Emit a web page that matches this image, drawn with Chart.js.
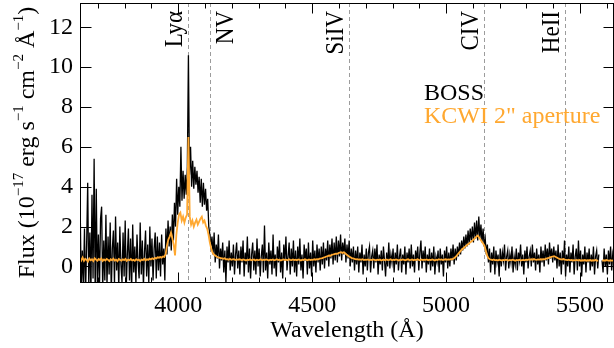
<!DOCTYPE html>
<html><head><meta charset="utf-8">
<script src="https://cdn.jsdelivr.net/npm/chart.js@4.4.1/dist/chart.umd.min.js"></script>
<style>html,body{margin:0;padding:0;background:#fff;}canvas{display:block;}</style>
</head><body>
<canvas id="c" width="614" height="348"></canvas>
<script>
// BOSS spectrum: flux sampled every 4 Å starting at 3630 Å
const BOSS_START = 3630, BOSS_STEP = 4;
const bossFlux = [
  1.2, 2.9, -1.2, 0.8, -0.9, 1.9, -1.4, 1.1, 4.2, -1.0, 1.7, -1.3, 3.6, -0.6, 5.4, -1.5, 3.9, -0.9, 1.6, -1.1, 2.4, 3.0, -1.2, 1.3, -0.7,
  2.6, -1.0, 1.5, -0.4, 2.2, -1.3, 0.9, 1.8, -0.9, 2.5, -0.2, 1.2, -1.1, 2.0, 0.1, -0.8, 1.7, -0.5, 2.3, -1.0, 0.6, 1.9, -0.7, 1.4, -1.2,
  2.1, -0.3, 1.0, -0.9, 1.6, 0.2, -0.6, 2.2, -0.4, 1.3, -1.0, 0.7, 1.8, -0.5, 1.1, -0.8, 2.0, 0.0, 1.4, -0.7, 0.9, 1.7, -0.6, 1.5, -0.2,
  1.2, -0.5, 1.6, 0.1, 0.9, -0.7, 1.9, 0.6, 2.3, 1.0, 2.0, 0.8, 2.6, 1.3, 3.2, 2.0, 4.4, 2.6, 4.0, 3.0, 6.0, 3.3, 4.8, 3.4, 4.6,
  3.6, 5.0, 10.6, 4.6, 6.0, 4.0, 5.3, 3.9, 5.0, 4.1, 4.8, 3.7, 4.5, 3.2, 4.4, 3.0, 4.2, 3.1, 3.9, 2.8, 3.4, 2.0, 1.6, 1.0, 1.5,
  0.6, 1.7, 0.2, 1.1, 0.4, 1.6, -0.1, 0.9, 0.3, 1.2, -0.3, 0.8, -0.8, 1.0, 0.2, 1.3, -0.2, 0.7, 0.0, 1.1, -0.4, 0.6, 1.2, -0.1, 0.8,
  -0.4, 1.0, 0.2, 1.3, -0.5, 0.7, 0.1, 1.5, -0.3, 0.9, -0.6, 0.6, 1.2, -0.2, 0.8, -0.4, 1.4, 0.0, 0.9, -0.5, 0.5, 1.1, -0.3, 2.05, -0.2,
  0.7, -0.6, 1.2, 0.1, 0.8, -0.4, 1.6, -0.1, 0.6, -0.5, 1.0, 0.2, 1.3, -0.3, 0.7, -0.6, 1.1, 0.3, 1.5, -0.2, 0.5, 1.2, -0.4, 0.9, 0.0,
  1.3, -0.3, 0.8, -0.5, 1.0, 0.1, 1.4, -0.2, 0.6, -0.6, 1.1, 0.3, 0.9, -0.4, 1.2, -0.1, 0.7, -0.5, 1.3, 0.0, 0.8, -0.3, 1.1, 0.2, 0.9,
  -0.2, 1.0, 0.1, 1.2, -0.1, 0.9, 0.3, 1.3, 0.0, 1.1, 0.4, 1.4, 0.1, 1.2, 0.3, 1.5, 0.2, 1.3, 0.5, 1.6, 0.3, 1.2, 0.6, 1.4, 0.2,
  1.1, 0.4, 1.3, 0.0, 0.9, 0.2, 1.0, -0.2, 0.8, 0.1, 1.0, -0.3, 0.7, 0.2, 1.1, -0.4, 0.6, 0.0, 0.9, -0.2, 0.7, 1.0, -0.3, 0.5, 0.8,
  -0.1, 0.9, 0.2, 1.1, -0.4, 0.6, 0.1, 0.8, -0.2, 1.0, 0.3, -0.5, 0.7, 0.0, 1.2, -0.1, 0.6, 0.2, 0.9, -0.3, 0.7, 0.1, 1.1, -0.2, 0.5,
  0.9, -0.3, 0.6, 0.1, 1.0, -0.4, 0.7, 0.2, 0.9, -0.1, 1.1, 0.0, 0.6, -0.3, 0.8, 0.3, 1.0, -0.2, 0.7, 1.3, -0.1, 0.8, 0.2, 1.0, -0.3,
  0.6, 0.1, 0.9, -0.2, 0.7, 0.0, 1.0, -0.4, 0.5, 0.2, 0.8, -0.3, 0.9, 0.1, 0.6, -0.5, 0.8, 0.2, 1.0, -0.1, 0.7, 0.0, 0.9, 0.3, 1.1,
  0.1, 0.9, 0.3, 1.0, 0.5, 1.2, 0.6, 1.3, 0.8, 1.5, 0.9, 1.6, 1.0, 1.8, 1.1, 1.9, 1.3, 2.0, 1.2, 2.2, 1.4, 2.3, 1.3, 2.5, 1.4,
  2.1, 1.2, 1.9, 1.0, 1.4, 0.6, 1.1, 0.2, 0.9, -0.3, 0.7, 0.1, 1.0, -0.4, 0.8, 0.2, 0.6, -0.5, 0.9, 0.0, 0.7, 0.3, 1.1, -0.2, 0.5,
  0.8, -0.1, 0.6, 0.2, 1.0, -0.3, 0.5, 0.1, 0.9, -0.2, 0.7, 0.3, 1.1, 0.0, 0.6, -0.4, 0.8, 0.2, 1.0, -0.1, 0.5, 0.8, 0.0, 1.1, 0.2,
  0.7, -0.2, 0.9, 0.1, 0.6, -0.3, 1.0, 0.2, 0.8, 0.0, 1.1, 0.3, 0.9, 0.1, 1.2, 0.4, 0.9, 0.2, 1.0, 0.3, 0.8, -0.1, 1.1, 0.0, 0.7,
  -0.4, 0.8, 0.1, 1.3, -0.5, 0.6, 0.0, 1.0, -0.3, 0.7, 0.2, 1.1, -0.4, 0.5, 0.9, -0.2, 1.3, 0.0, 0.8, -0.5, 0.6, 0.1, 1.0, -0.3, 0.7,
  0.2, 0.9, -0.2, 0.6, 0.0, 1.0, -0.4, 0.5, 0.8, -0.1, 0.6, null, null, 0.3, -0.3, 0.9, 0.0, 0.6, -0.4, 0.8, 0.1, 1.0, -0.2, 0.6, 0.2
];

// KCWI 2" aperture spectrum: flux sampled every 5 Å starting at 3633 Å
const KCWI_START = 3633, KCWI_STEP = 5;
const kcwiFlux = [
  0.42, 0.30, 0.45, 0.28, 0.38, 0.33, 0.25, 0.40, 0.31, 0.36, 0.27, 0.41, 0.34, 0.29, 0.37, 0.32, 0.40, 0.28, 0.35, 0.30,
  0.38, 0.33, 0.27, 0.36, 0.31, 0.39, 0.30, 0.34, 0.26, 0.37, 0.33, 0.29, 0.36, 0.32, 0.38, 0.28, 0.34, 0.31, 0.37, 0.30,
  0.33, 0.28, 0.36, 0.31, 0.34, 0.27, 0.35, 0.32, 0.38, 0.30, 0.36, 0.33, 0.39, 0.35, 0.41, 0.37, 0.43, 0.40, 0.46, 0.44,
  0.47, 0.44, 0.50, 0.48, 0.62, 1.05, 1.35, 1.5, 1.7, 1.4, 1.1, 0.55, 1.6, 2.2, 2.6, 2.7, 2.3, 2.5, 2.2, 2.45,
  2.6, 6.5, 2.5, 2.1, 2.3, 2.0, 2.2, 2.35, 2.1, 2.25, 2.4, 2.5, 2.2, 2.3, 2.05, 1.9, 1.6, 1.2, 0.9, 0.7,
  0.6, 0.55, 0.5, 0.46, 0.44, 0.42, 0.40, 0.38, 0.41, 0.36, 0.37, 0.34, 0.38, 0.33, 0.35, 0.36, 0.32, 0.35, 0.33, 0.36,
  0.34, 0.31, 0.35, 0.33, 0.30, 0.34, 0.32, 0.36, 0.31, 0.33, 0.35, 0.30, 0.34, 0.32, 0.33, 0.36, 0.31, 0.34, 0.32, 0.35,
  0.33, 0.30, 0.34, 0.32, 0.35, 0.31, 0.33, 0.36, 0.32, 0.34, 0.30, 0.33, 0.35, 0.32, 0.34, 0.31, 0.36, 0.33, 0.32, 0.35,
  0.32, 0.34, 0.31, 0.35, 0.33, 0.30, 0.34, 0.32, 0.36, 0.33, 0.31, 0.35, 0.32, 0.34, 0.33, 0.36, 0.34, 0.37, 0.36, 0.39,
  0.40, 0.42, 0.45, 0.47, 0.50, 0.52, 0.55, 0.54, 0.58, 0.60, 0.62, 0.64, 0.63, 0.67, 0.70, 0.72, 0.68, 0.71, 0.66, 0.60,
  0.55, 0.50, 0.46, 0.42, 0.40, 0.38, 0.36, 0.37, 0.34, 0.35, 0.33, 0.36, 0.32, 0.34, 0.33, 0.35, 0.31, 0.34, 0.32, 0.35,
  0.33, 0.31, 0.34, 0.32, 0.35, 0.30, 0.33, 0.34, 0.31, 0.35, 0.32, 0.33, 0.36, 0.31, 0.34, 0.32, 0.35, 0.33, 0.30, 0.34,
  0.32, 0.35, 0.33, 0.31, 0.34, 0.36, 0.32, 0.33, 0.35, 0.31, 0.34, 0.32, 0.36, 0.33, 0.31, 0.35, 0.32, 0.34, 0.33, 0.35,
  0.31, 0.34, 0.32, 0.35, 0.33, 0.30, 0.34, 0.32, 0.36, 0.33, 0.35, 0.32, 0.34, 0.36, 0.33, 0.35, 0.34, 0.37, 0.36, 0.40,
  0.45, 0.52, 0.60, 0.68, 0.76, 0.84, 0.90, 0.96, 1.02, 1.08, 1.12, 1.18, 1.24, 1.30, 1.36, 1.42, 1.50, 1.55, 1.45, 1.35,
  1.25, 1.15, 1.05, 0.80, 0.55, 0.42, 0.36, 0.34, 0.32, 0.35, 0.31, 0.33, 0.30, 0.34, 0.32, 0.30, 0.33, 0.31, 0.34, 0.32,
  0.30, 0.33, 0.31, 0.34, 0.32, 0.29, 0.33, 0.31, 0.34, 0.30, 0.32, 0.33, 0.31, 0.34, 0.32, 0.35, 0.33, 0.36, 0.34, 0.37,
  0.34, 0.33, 0.35, 0.34, 0.36, 0.35, 0.37, 0.36, 0.39, 0.41, 0.43, 0.46, 0.48, 0.50, 0.52, 0.49, 0.45, 0.41, 0.38, 0.36,
  0.35, 0.37, 0.34, 0.33, 0.32, 0.34, 0.31, 0.33, 0.30, 0.32, 0.31, 0.33, 0.30, 0.32, 0.29, 0.31, 0.30, 0.32, 0.29, 0.31,
  0.30, 0.32, 0.29, 0.31, 0.30, 0.33, 0.29, 0.31, null, null, 0.28, 0.31, 0.29, 0.32, 0.30, 0.28, 0.31, 0.29, 0.30
];

// Emission-line markers
const lineNames = ['Lyα', 'NV', 'SiIV', 'CIV', 'HeII'];
const lineWaves = [4038, 4120, 4639, 5142, 5444];

// Axis ticks
const xTicks = [4000, 4500, 5000, 5500];
const xMinorTicks = [3700, 3800, 3900, 4100, 4200, 4300, 4400, 4600, 4700, 4800, 4900, 5100, 5200, 5300, 5400, 5600];
const yTicks = [0, 2, 4, 6, 8, 10, 12];

const BOSS_COLOR = '#000000';
const KCWI_COLOR = 'rgb(255,168,48)';
const FONT = '"Liberation Serif", "Times New Roman", serif';

Chart.defaults.font.family = FONT;
Chart.defaults.color = '#000';

const bossData = bossFlux.map((f, i) => ({ x: BOSS_START + i * BOSS_STEP, y: f }));
const kcwiData = kcwiFlux.map((f, i) => ({ x: KCWI_START + i * KCWI_STEP, y: f }));

const decor = {
  id: 'decor',
  beforeDatasetsDraw(chart) {
    const { ctx, chartArea: a, scales: { x } } = chart;
    ctx.save();
    ctx.strokeStyle = '#9c9c9c';
    ctx.lineWidth = 1;
    ctx.setLineDash([4, 3]);
    lineWaves.forEach(w => {
      const px = Math.round(x.getPixelForValue(w)) + 0.5;
      ctx.beginPath(); ctx.moveTo(px, a.top); ctx.lineTo(px, a.bottom); ctx.stroke();
    });
    ctx.restore();
  },
  afterDatasetsDraw(chart) {
    const { ctx, chartArea: a, scales: { x, y } } = chart;
    ctx.save();
    ctx.strokeStyle = '#000'; ctx.lineWidth = 1;
    const L = a.left - 0.5, R = a.right + 0.5, T = a.top + 0.5, B = a.bottom + 0.5;
    ctx.strokeRect(L, T, R - L, B - T);
    ctx.beginPath();
    const xt = (v, len) => {
      const p = Math.round(x.getPixelForValue(v)) + 0.5;
      ctx.moveTo(p, B); ctx.lineTo(p, B - len);
      ctx.moveTo(p, T); ctx.lineTo(p, T + len);
    };
    xTicks.forEach(v => xt(v, 10));
    xMinorTicks.forEach(v => xt(v, 5));
    yTicks.forEach(v => {
      const p = Math.round(y.getPixelForValue(v)) + 0.5;
      ctx.moveTo(L, p); ctx.lineTo(L + 11, p);
      ctx.moveTo(R, p); ctx.lineTo(R - 10, p);
    });
    ctx.stroke();
    ctx.restore();
  },
  afterDraw(chart) {
    const { ctx, chartArea: a, scales: { x } } = chart;
    ctx.save();
    // line labels (rotated, reading upward)
    ctx.fillStyle = '#000';
    ctx.font = '23px ' + FONT;
    ctx.textAlign = 'right'; ctx.textBaseline = 'alphabetic';
    lineNames.forEach((n, i) => {
      const px = x.getPixelForValue(lineWaves[i]);
      const bx = n === 'NV' ? px + 23 : px - 6.5;
      ctx.save();
      ctx.translate(bx, a.top + 8);
      ctx.rotate(-Math.PI / 2);
      ctx.scale(1, 1.12);
      ctx.fillText(n, 0, 0);
      ctx.restore();
    });
    // legend text
    ctx.textAlign = 'left';
    ctx.font = '24px ' + FONT;
    const ds = chart.data.datasets;
    ctx.fillStyle = ds[1].borderColor; ctx.fillText(ds[1].label, 424, 100);
    ctx.fillStyle = ds[0].borderColor; ctx.fillText(ds[0].label, 424, 123);
    // x title
    ctx.fillStyle = '#000'; ctx.textAlign = 'center';
    ctx.fillText('Wavelength (Å)', (a.left + a.right) / 2, 337);
    // y title with superscripts
    const runs = [['Flux (10', 0], ['\u221217', 1], [' erg s', 0], ['\u22121', 1], [' cm', 0], ['\u22122', 1], [' Å', 0], ['\u22121', 1], [')', 0]];
    const mainF = '24px ' + FONT, supF = '15px ' + FONT;
    let total = 0;
    runs.forEach(r => { ctx.font = r[1] ? supF : mainF; total += ctx.measureText(r[0]).width; });
    ctx.save();
    ctx.translate(34, (a.top + a.bottom) / 2);
    ctx.rotate(-Math.PI / 2);
    ctx.textAlign = 'left';
    let cx = -total / 2;
    runs.forEach(r => {
      ctx.font = r[1] ? supF : mainF;
      ctx.fillText(r[0], cx, r[1] ? -11 : 0);
      cx += ctx.measureText(r[0]).width;
    });
    ctx.restore();
    ctx.restore();
  }
};

new Chart(document.getElementById('c'), {
  type: 'line',
  data: {
    datasets: [
      { label: 'KCWI 2" aperture', data: kcwiData, borderColor: KCWI_COLOR, borderWidth: 1.8, pointRadius: 0, tension: 0, spanGaps: false, clip: 0 },
      { label: 'BOSS', data: bossData, borderColor: BOSS_COLOR, borderWidth: 1.3, pointRadius: 0, tension: 0, spanGaps: false, clip: 0 }
    ]
  },
  options: {
    responsive: false,
    animation: false,
    layout: { padding: { top: 3, right: 1, left: 0, bottom: 0 } },
    plugins: { legend: { display: false }, tooltip: { enabled: false } },
    scales: {
      x: {
        type: 'linear', min: 3637, max: 5623,
        grid: { display: false, drawTicks: false },
        border: { display: false },
        ticks: { font: { size: 24, family: FONT }, color: '#000', padding: 9, maxRotation: 0, autoSkip: false, callback: v => String(v) },
        afterBuildTicks: s => { s.ticks = xTicks.map(v => ({ value: v })); },
        afterFit: s => { s.height = 66; s.paddingLeft = 0; s.paddingRight = 0; }
      },
      y: {
        type: 'linear', min: -0.78, max: 13.22,
        grid: { display: false, drawTicks: false },
        border: { display: false },
        ticks: { font: { size: 24, family: FONT }, color: '#000', padding: 8, autoSkip: false, callback: v => String(v) },
        afterBuildTicks: s => { s.ticks = yTicks.map(v => ({ value: v })); },
        afterFit: s => { s.width = 81; s.paddingTop = 0; s.paddingBottom = 0; }
      }
    }
  },
  plugins: [decor]
});
</script>
</body></html>
